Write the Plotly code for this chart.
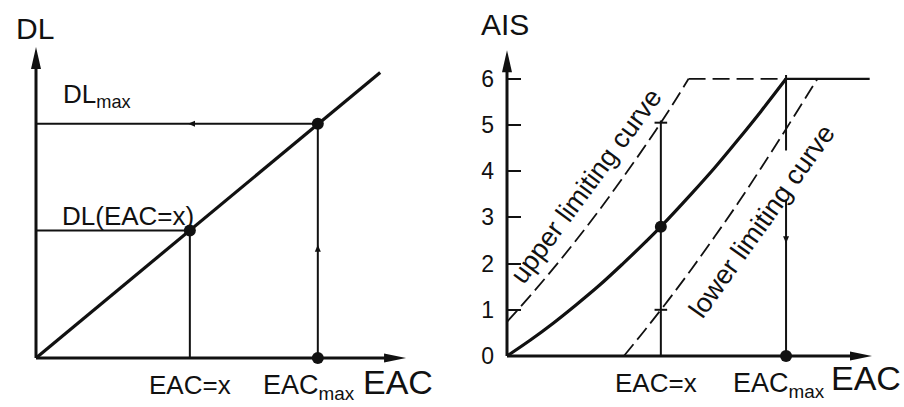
import plotly.graph_objects as go

# ---------------- data ----------------
# common drawing scale: both panels use the same units on x and y
# Left panel: DL versus EAC (straight line)
DL_LINE_EAC = [0.0, 7.45]
DL_LINE_DL = [0.0, 6.18]
EAC_X_L = 3.33
DL_AT_X = 2.76
EAC_MAX_L = 6.10
DL_MAX = 5.07
LEFT_X_END = 8.01
LEFT_Y_END = 6.73
LEFT_ARROWS_POS = {"dlmax_h": 3.29, "eacmax_v": 2.45}

# Right panel: AIS versus EAC
AIS_TICKS = [0, 1, 2, 3, 4, 5, 6]
AIS_TICKTEXT = ["0", "1", "2", "3", "4", "5", "6"]
CURVE_EAC = [0, 0.5, 1, 1.5, 2, 2.5, 3, 3.33, 4, 4.5, 5, 5.5, 6.04]
CURVE_AIS = [0, 0.34, 0.71, 1.11, 1.53, 1.99, 2.47, 2.80, 3.52, 4.08, 4.68, 5.30, 6.0]
PLATEAU_EAC = [6.04, 7.85]
PLATEAU_AIS = [6.0, 6.0]
UPPER_EAC = [0, 0.5, 1, 1.5, 2, 2.5, 3, 3.5, 3.93]
UPPER_AIS = [0.74, 1.30, 1.89, 2.51, 3.16, 3.85, 4.56, 5.31, 6.0]
UPPER_PLATEAU_EAC = [3.93, 6.04]
UPPER_PLATEAU_AIS = [6.0, 6.0]
LOWER_EAC = [2.53, 3, 3.5, 4, 4.5, 5, 5.5, 6, 6.5, 6.72]
LOWER_AIS = [0, 0.58, 1.22, 1.89, 2.59, 3.31, 4.07, 4.85, 5.65, 6.0]
EAC_X_R = 3.33
AIS_AT_X = 2.80
UPPER_AT_X = 5.05
LOWER_AT_X = 1.0
EAC_MAX_R = 6.04
AIS_MAX = 6.0
EACMAX_GAP = [4.45, 3.38]
RIGHT_ARROW_POS = 2.44
RIGHT_X_END = 7.9
RIGHT_Y_END = 6.62

# ---------------- layout geometry ----------------
W, H = 904, 407
PX = 46.2  # pixels per data unit
FONT = "Liberation Sans"
INK = "#111111"

fig = go.Figure()

def seg(x, y, xa, ya, width=2.0, dash=None, shape="linear"):
    fig.add_trace(go.Scatter(x=x, y=y, xaxis=xa, yaxis=ya, mode="lines",
                             line=dict(color=INK, width=width, dash=dash, shape=shape),
                             hoverinfo="skip", showlegend=False))

def dots(x, y, xa, ya, size=12, symbol="circle", lw=0):
    fig.add_trace(go.Scatter(x=x, y=y, xaxis=xa, yaxis=ya, mode="markers",
                             marker=dict(color=INK, size=size, symbol=symbol,
                                         line=dict(color=INK, width=lw)),
                             hoverinfo="skip", showlegend=False, cliponaxis=False))

shapes = []
def arrow(xref, yref, tx, ty, dx, dy, length_px, half_px):
    L = length_px / PX
    hw = half_px / PX
    bx, by = tx - dx * L, ty - dy * L
    ox, oy = -dy * hw, dx * hw
    path = f"M {tx},{ty} L {bx + ox},{by + oy} L {bx - ox},{by - oy} Z"
    shapes.append(dict(type="path", xref=xref, yref=yref, path=path,
                       fillcolor=INK, line=dict(width=0), layer="above"))

# ---------- left panel ----------
seg([0, 0], [0, LEFT_Y_END - 0.3], "x", "y", width=3)
seg([0, LEFT_X_END - 0.3], [0, 0], "x", "y", width=3)
arrow("x", "y", 0, LEFT_Y_END, 0, 1, 22, 5)
arrow("x", "y", LEFT_X_END, 0, 1, 0, 22, 4.5)
seg(DL_LINE_EAC, DL_LINE_DL, "x", "y", width=3.2)
seg([0, EAC_MAX_L], [DL_MAX, DL_MAX], "x", "y")
seg([EAC_MAX_L, EAC_MAX_L], [0, DL_MAX], "x", "y")
seg([0, EAC_X_L], [DL_AT_X, DL_AT_X], "x", "y")
seg([EAC_X_L, EAC_X_L], [0, DL_AT_X], "x", "y")
arrow("x", "y", LEFT_ARROWS_POS["dlmax_h"], DL_MAX, -1, 0, 7, 3)
arrow("x", "y", EAC_MAX_L, LEFT_ARROWS_POS["eacmax_v"], 0, 1, 7, 3)
dots([EAC_X_L, EAC_MAX_L, EAC_MAX_L], [DL_AT_X, DL_MAX, 0], "x", "y")

# ---------- right panel ----------
seg([0, 0], [0, RIGHT_Y_END - 0.3], "x2", "y2", width=3)
seg([0, RIGHT_X_END - 0.3], [0, 0], "x2", "y2", width=3)
arrow("x2", "y2", 0, RIGHT_Y_END, 0, 1, 22, 5)
arrow("x2", "y2", RIGHT_X_END, 0, 1, 0, 22, 4.5)
seg(CURVE_EAC, CURVE_AIS, "x2", "y2", width=3.2, shape="spline")
seg(PLATEAU_EAC, PLATEAU_AIS, "x2", "y2", width=2.2)
seg(UPPER_EAC, UPPER_AIS, "x2", "y2", width=1.8, dash="15px,6px", shape="spline")
seg(UPPER_PLATEAU_EAC, UPPER_PLATEAU_AIS, "x2", "y2", width=1.8, dash="17px,7px")
seg(LOWER_EAC, LOWER_AIS, "x2", "y2", width=1.8, dash="15px,6px", shape="spline")
seg([EAC_X_R, EAC_X_R], [0, UPPER_AT_X + 0.05], "x2", "y2")
seg([EAC_MAX_R, EAC_MAX_R], [AIS_MAX + 0.08, EACMAX_GAP[0]], "x2", "y2")
seg([EAC_MAX_R, EAC_MAX_R], [EACMAX_GAP[1], 0], "x2", "y2")
arrow("x2", "y2", EAC_MAX_R, RIGHT_ARROW_POS, 0, -1, 7, 3)
dots([EAC_X_R, EAC_X_R], [UPPER_AT_X, LOWER_AT_X], "x2", "y2", size=9, symbol="line-ew", lw=2)
dots([EAC_X_R, EAC_MAX_R], [AIS_AT_X, 0], "x2", "y2", size=12)

# ---------- axes ----------
def dom_x(px0, lo, hi):
    return [(px0 + lo * PX) / W, (px0 + hi * PX) / W]

def dom_y(py0, lo, hi):
    return [(H - (py0 - lo * PX)) / H, (H - (py0 - hi * PX)) / H]

OX_L, OY_L = 36, 358
OX_R, OY_R = 507, 356
XR_L, YR_L = [-0.3, 8.2], [-0.3, 7.0]
XR_R, YR_R = [-0.3, 8.1], [-0.3, 7.0]

hidden = dict(visible=False, showgrid=False, zeroline=False, fixedrange=True)
fig.update_layout(
    width=W, height=H, margin=dict(l=0, r=0, t=0, b=0),
    paper_bgcolor="white", plot_bgcolor="rgba(0,0,0,0)",
    font=dict(family=FONT, color=INK),
    xaxis=dict(hidden, domain=dom_x(OX_L, *XR_L), range=XR_L, anchor="y"),
    yaxis=dict(hidden, domain=dom_y(OY_L, *YR_L), range=YR_L, anchor="x"),
    xaxis2=dict(hidden, domain=dom_x(OX_R, *XR_R), range=XR_R, anchor="y2"),
    yaxis2=dict(domain=dom_y(OY_R, *YR_R), range=YR_R, anchor="free",
                position=OX_R / W, showgrid=False, zeroline=False, showline=False,
                tickmode="array", tickvals=AIS_TICKS, ticktext=AIS_TICKTEXT,
                ticks="inside", ticklen=13, tickwidth=2, tickcolor=INK,
                ticklabelstandoff=13,
                tickfont=dict(size=23, family=FONT, color=INK), fixedrange=True),
    shapes=shapes,
)

def label(text, x, y, xref="paper", yref="paper", size=26, angle=0, xanchor="center",
          yanchor="middle", xshift=0, yshift=0):
    fig.add_annotation(text=text, x=x, y=y, xref=xref, yref=yref, showarrow=False,
                       font=dict(size=size, family=FONT, color=INK), textangle=angle,
                       xanchor=xanchor, yanchor=yanchor, xshift=xshift, yshift=yshift)

def py(pix):
    return (H - pix) / H

# left texts
label("DL", 35 / W, py(28), size=30)
label("DL<sub>max</sub>", 0.55, py(96), xref="x", size=26, xanchor="left")
label("DL(EAC=x)", 128 / W, py(216), size=26)
label("EAC=x", EAC_X_L, py(385), xref="x", size=26)
label("EAC<sub>max</sub>", EAC_MAX_L, py(387), xref="x", size=27, xshift=-9)
label("EAC", 398 / W, py(382), size=34)

# right texts
label("AIS", 505 / W, py(24), size=30)
label("EAC=x", EAC_X_R, py(383), xref="x2", size=26, xshift=-5)
label("EAC<sub>max</sub>", EAC_MAX_R, py(385), xref="x2", size=27, xshift=-7)
label("EAC", 866 / W, py(378), size=34)
label("upper limiting curve", 586 / W, py(186), size=27, angle=-53.5)
label("lower limiting curve", 762 / W, py(221), size=27, angle=-54.5)

fig.write_html("out.html")
